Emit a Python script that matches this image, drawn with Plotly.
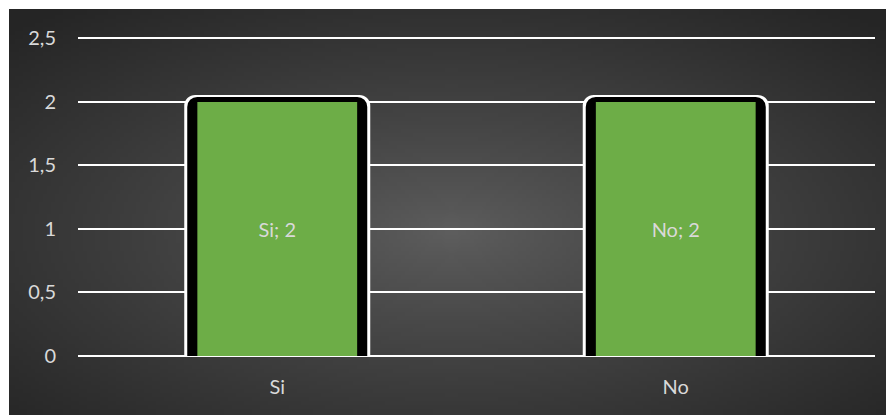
import base64, struct, zlib
import plotly.graph_objects as go

categories = ["Si", "No"]
values = [2, 2]
labels = ["Si; 2", "No; 2"]
y_ticks = [0, 0.5, 1, 1.5, 2, 2.5]


def make_gradient_png(w, h, c_center, c_edge):
    rows = bytearray()
    cx, cy = w / 2.0, h * 0.55
    for j in range(h):
        rows.append(0)
        for i in range(w):
            dx = (i + 0.5 - cx) / (w / 2.0)
            dy = (j + 0.5 - cy) / (h / 2.0)
            d = min(1.0, ((dx * dx + dy * dy) ** 0.5) / (2 ** 0.5))
            t = d ** 0.85
            v = int(round(c_center + (c_edge - c_center) * t))
            rows += bytes((v, v, v))

    def chunk(tag, data):
        c = struct.pack(">I", len(data)) + tag + data
        return c + struct.pack(">I", zlib.crc32(tag + data) & 0xFFFFFFFF)

    png = b"\x89PNG\r\n\x1a\n"
    png += chunk(b"IHDR", struct.pack(">IIBBBBB", w, h, 8, 2, 0, 0, 0))
    png += chunk(b"IDAT", zlib.compress(bytes(rows), 9))
    png += chunk(b"IEND", b"")
    return "data:image/png;base64," + base64.b64encode(png).decode()


bg = make_gradient_png(220, 100, 0x5E, 0x25)

# page body has an 8px margin; figure fills the rest of the 894x415 window
W, H = 886, 407
ml, mr, mt, mb = 70, 19, 24, 59
pw, ph = W - ml - mr, H - mt - mb

FONT = "Lato"
TXT = "#d9d9d9"

fig = go.Figure()
# thin white outer outline
fig.add_trace(go.Bar(
    x=categories, y=values, width=0.4316,
    marker=dict(color="white", line=dict(color="white", width=14), cornerradius=4),
    hoverinfo="skip",
))
# black border
fig.add_trace(go.Bar(
    x=categories, y=values, width=0.4266,
    marker=dict(color="black", line=dict(color="black", width=10), cornerradius=5),
    hoverinfo="skip",
))
# green fill with label
fig.add_trace(go.Bar(
    x=categories, y=values, width=0.401,
    text=labels, textposition="inside", insidetextanchor="middle",
    textfont=dict(color=TXT, size=20, family=FONT),
    marker=dict(color="#6dad47", line=dict(width=0)),
    hoverinfo="skip",
))

x0 = (1 - ml) / pw
x1 = (W - ml) / pw
ytop = (H - mb - 1) / ph
ybot = (H - mb - H) / ph

fig.update_layout(
    width=W, height=H,
    margin=dict(l=ml, r=mr, t=mt, b=mb),
    paper_bgcolor="white",
    plot_bgcolor="rgba(0,0,0,0)",
    barmode="overlay",
    showlegend=False,
    separators=",.",
    font=dict(family=FONT, color=TXT, size=20),
    images=[dict(
        source=bg, xref="paper", yref="paper",
        x=x0, y=ytop, sizex=x1 - x0, sizey=ytop - ybot,
        xanchor="left", yanchor="top", sizing="stretch", layer="below",
    )],
    xaxis=dict(
        showgrid=False, showline=False, ticks="",
        tickfont=dict(color=TXT, size=20, family=FONT),
        ticklabelstandoff=17,
    ),
    yaxis=dict(
        range=[0, 2.55], tickvals=y_ticks,
        showgrid=True, gridcolor="white", gridwidth=1.5,
        zeroline=True, zerolinecolor="white", zerolinewidth=1.5,
        showline=False, ticks="",
        tickfont=dict(color=TXT, size=20, family=FONT),
        ticklabelstandoff=21,
    ),
    hovermode=False,
)

fig.write_html("out.html", config={"displayModeBar": False})
